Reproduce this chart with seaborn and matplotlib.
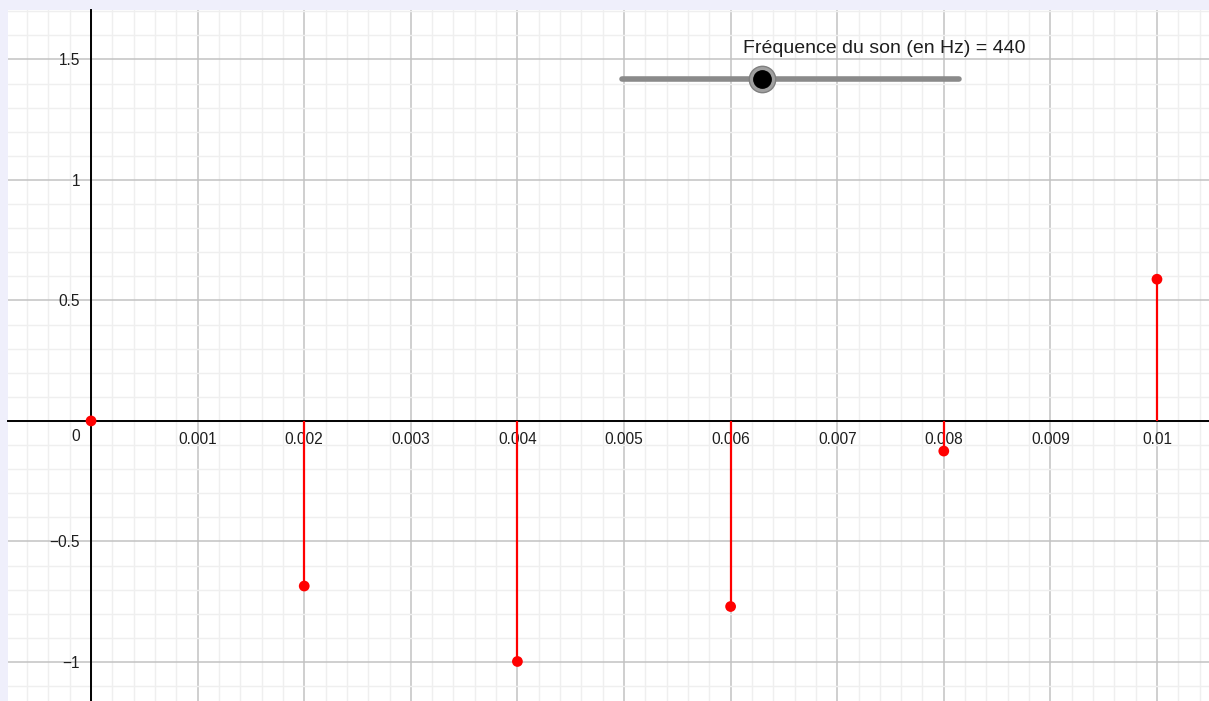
import matplotlib
matplotlib.use("Agg")
import matplotlib.pyplot as plt
from matplotlib.ticker import MultipleLocator, FixedLocator, FixedFormatter
import seaborn as sns
import pandas as pd

# Sampled sound signal (440 Hz) every 2 ms
t_values = [0.0, 0.002, 0.004, 0.006, 0.008, 0.010]
amplitudes = [0.0, -0.685, -0.998, -0.770, -0.125, 0.588]

x_ticks = [0.001, 0.002, 0.003, 0.004, 0.005, 0.006, 0.007, 0.008, 0.009, 0.01]
x_tick_labels = ["0.001", "0.002", "0.003", "0.004", "0.005", "0.006", "0.007", "0.008", "0.009", "0.01"]
y_ticks = [-1.0, -0.5, 0.5, 1.0, 1.5]
y_tick_labels = ["\u22121", "\u22120.5", "0.5", "1", "1.5"]

slider_label = "Fréquence du son (en Hz) = 440"

df = pd.DataFrame({"t": t_values, "a": amplitudes})

sns.set_theme(style="white")
plt.rcParams["font.family"] = ["Liberation Sans", "DejaVu Sans"]

fig = plt.figure(figsize=(12.09, 7.01), dpi=100)
fig.patch.set_facecolor("#efeffb")
ax = fig.add_axes([8 / 1209, 0, 1201 / 1209, 691 / 701])
ax.set_facecolor("white")

ax.set_xlim(-0.000779, 0.010488)
ax.set_ylim(-1.162, 1.705)

# grid
ax.xaxis.set_major_locator(FixedLocator(x_ticks))
ax.xaxis.set_major_formatter(FixedFormatter(x_tick_labels))
ax.xaxis.set_minor_locator(MultipleLocator(0.0002))
ax.yaxis.set_major_locator(FixedLocator(y_ticks))
ax.yaxis.set_major_formatter(FixedFormatter(y_tick_labels))
ax.yaxis.set_minor_locator(MultipleLocator(0.1))
ax.grid(which="minor", color="#efefef", lw=1.0, zorder=0)
ax.grid(which="major", color="#c2c2c2", lw=1.1, zorder=0.5)
ax.set_axisbelow(True)

# axes through the origin
for side in ["top", "right"]:
    ax.spines[side].set_visible(False)
ax.spines["left"].set_position(("data", 0))
ax.spines["bottom"].set_position(("data", 0))
for side in ["left", "bottom"]:
    ax.spines[side].set_color("black")
    ax.spines[side].set_linewidth(1.4)
    ax.spines[side].set_zorder(1)

ax.tick_params(axis="both", which="both", length=0, labelsize=11.2, labelcolor="#1e1e1e")
ax.tick_params(axis="x", pad=8)
ax.tick_params(axis="y", pad=8)
ax.text(-0.000105, -0.032, "0", ha="right", va="top", fontsize=11.2, color="#1e1e1e",
        transform=ax.transData, zorder=3)

# stems and sample points
ax.vlines(df["t"], 0, df["a"], color="#ff0000", lw=1.6, zorder=4)
sns.scatterplot(data=df, x="t", y="a", ax=ax, color="#ff0000", s=60,
                edgecolor="none", zorder=5, legend=False)
ax.set_xlabel("")
ax.set_ylabel("")

# frequency slider
ax.plot([0.511, 0.792], [0.900, 0.900], color="#8a8a8a", lw=4, solid_capstyle="round",
        transform=ax.transAxes, zorder=6, clip_on=False)
ax.plot([0.628], [0.900], "o", ms=19, color="#a0a0a0", mec="#808080", mew=1,
        transform=ax.transAxes, zorder=7)
ax.plot([0.628], [0.900], "o", ms=12.5, color="black", transform=ax.transAxes, zorder=8)
ax.text(0.612, 0.945, slider_label, ha="left", va="center", fontsize=14,
        color="#1e1e1e", transform=ax.transAxes, zorder=8)

fig.savefig("out.png", dpi=100, facecolor=fig.get_facecolor())
